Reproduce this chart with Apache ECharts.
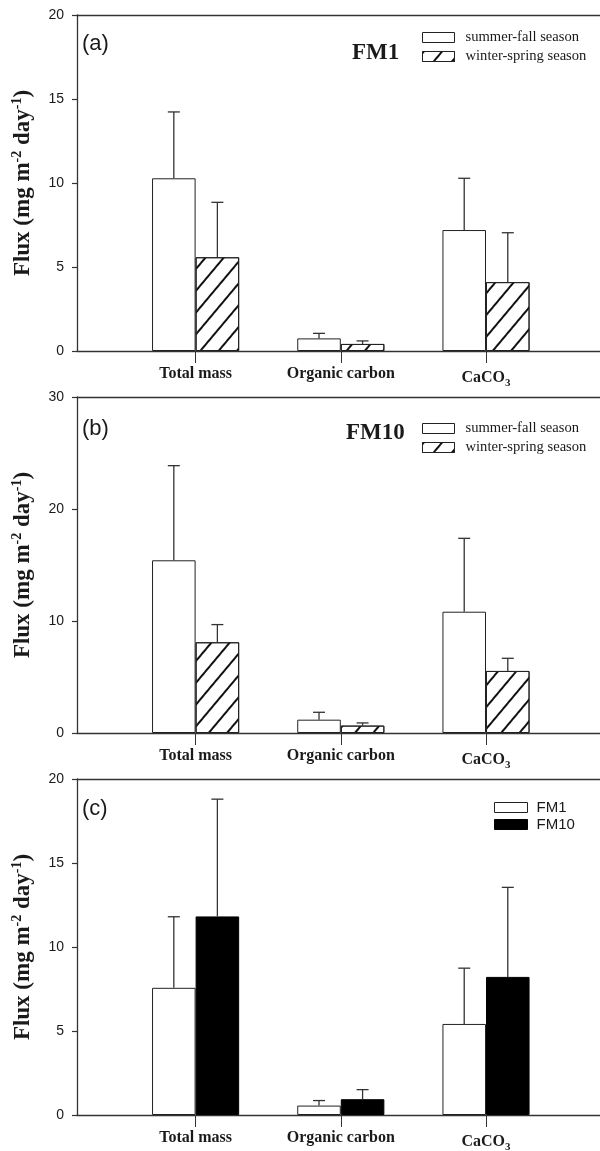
<!DOCTYPE html>
<html>
<head>
<meta charset="utf-8">
<script src="https://cdn.jsdelivr.net/npm/echarts@6/dist/echarts.min.js"></script>
<style>
  html, body { margin: 0; padding: 0; background: #fff; }
  #chart { width: 600px; height: 1151px; }
</style>
</head>
<body>
<div id="chart"></div>
<script>
// data
var categories = ['Total mass', 'Organic carbon', 'CaCO3'];

// (a) FM1
var fm1Summer = [10.28, 0.75, 7.20];
var fm1SummerSd = [3.95, 0.30, 3.08];
var fm1Winter = [5.58, 0.42, 4.10];
var fm1WinterSd = [3.27, 0.18, 2.94];

// (b) FM10
var fm10Summer = [15.42, 1.19, 10.83];
var fm10SummerSd = [8.45, 0.66, 6.55];
var fm10Winter = [8.10, 0.66, 5.54];
var fm10WinterSd = [1.58, 0.24, 1.13];

// (c) annual FM1 vs FM10
var annualFm1 = [7.57, 0.56, 5.42];
var annualFm1Sd = [4.23, 0.30, 3.32];
var annualFm10 = [11.82, 0.94, 8.22];
var annualFm10Sd = [6.98, 0.57, 5.33];

var ticksA = [0, 5, 10, 15, 20];
var ticksB = [0, 10, 20, 30];
var ticksC = [0, 5, 10, 15, 20];

var panelLabels = ['(a)', '(b)', '(c)'];
var panelTitles = ['FM1', 'FM10'];
var seasonNames = ['summer-fall season', 'winter-spring season'];
var siteNames = ['FM1', 'FM10'];

var SERIF = 'Liberation Serif, Times New Roman, serif';
var SANS = 'Liberation Sans, Arial, sans-serif';
var INK = '#1a1a1a';

var hatch = {
  symbol: 'rect',
  symbolSize: 1,
  dashArrayX: [1, 0],
  dashArrayY: [1.3, 12],
  rotation: -50 * Math.PI / 180,
  color: '#111'
};

// panel geometry (pixels)
var panels = [
  { top: 15, height: 336, ticks: ticksA },
  { top: 397, height: 336, ticks: ticksB },
  { top: 779, height: 336, ticks: ticksC }
];

function errorItem(side) {
  return function (params, api) {
    var cat = api.value(0);
    var band = api.size([1, 0])[0];
    var base = api.coord([cat, api.value(1)]);
    var top = api.coord([cat, api.value(1) + api.value(2)]);
    var x = base[0] + side * band * 0.15;
    var lineStyle = { stroke: '#333', lineWidth: 1.3 };
    return {
      type: 'group',
      children: [
        { type: 'line', shape: { x1: x, y1: base[1], x2: x, y2: top[1] }, style: lineStyle },
        { type: 'line', shape: { x1: x - 6, y1: top[1], x2: x + 6, y2: top[1] }, style: lineStyle }
      ]
    };
  };
}

function catLabel(v) {
  if (v === 'CaCO3') return '{b|CaCO}{sub|3}';
  return '{b|' + v + '}';
}

var chart = echarts.init(document.getElementById('chart'));

var grids = [], xAxes = [], yAxes = [], series = [];

panels.forEach(function (p, k) {
  var min = p.ticks[0], max = p.ticks[p.ticks.length - 1];
  var step = p.ticks[1] - p.ticks[0];
  // frame grid
  grids.push({ left: 77, right: -6, top: p.top, height: p.height, outerBoundsMode: 'none', containLabel: false });
  // bar grid
  grids.push({ left: 123, width: 435.6, top: p.top, height: p.height, outerBoundsMode: 'none', containLabel: false });

  xAxes.push({
    gridIndex: 2 * k, type: 'value', min: 0, max: 1, position: 'bottom',
    axisLine: { show: true, lineStyle: { color: '#333', width: 1.3 } },
    axisTick: { show: false }, axisLabel: { show: false }, splitLine: { show: false }
  });
  xAxes.push({
    gridIndex: 2 * k, type: 'value', min: 0, max: 1, position: 'top',
    axisLine: { show: true, lineStyle: { color: '#333', width: 1.3 } },
    axisTick: { show: false }, axisLabel: { show: false }, splitLine: { show: false }
  });
  xAxes.push({
    gridIndex: 2 * k + 1, type: 'category', data: categories, position: 'bottom',
    axisLine: { show: false },
    axisTick: { show: true, alignWithLabel: true, length: 12, lineStyle: { color: '#333', width: 1 } },
    axisLabel: {
      margin: 15, formatter: catLabel,
      rich: {
        b: { fontFamily: SERIF, fontWeight: 'bold', fontSize: 16, color: INK },
        sub: { fontFamily: SERIF, fontWeight: 'bold', fontSize: 11, color: INK, padding: [12, 0, 0, 0] }
      }
    },
    splitLine: { show: false }
  });

  yAxes.push({
    gridIndex: 2 * k, type: 'value', min: min, max: max, interval: step,
    axisLine: { show: true, lineStyle: { color: '#333', width: 1.3 } },
    axisTick: { show: true, length: 5, lineStyle: { color: '#333', width: 1.2 } },
    axisLabel: { margin: 13, fontFamily: SANS, fontSize: 14, color: INK },
    splitLine: { show: false },
    name: '{b|Flux (mg m}{s|-2}{b| day}{s|-1}{b|)}',
    nameLocation: 'middle', nameGap: 41, nameRotate: 90,
    nameTextStyle: {
      rich: {
        b: { fontFamily: SERIF, fontWeight: 'bold', fontSize: 23, color: INK },
        s: { fontFamily: SERIF, fontWeight: 'bold', fontSize: 14, color: INK, padding: [0, 0, 12, 0] }
      }
    }
  });
  yAxes.push({
    gridIndex: 2 * k + 1, type: 'value', min: min, max: max, show: false
  });
});

function addPair(k, names, v1, e1, v2, e2, style2) {
  var xi = 3 * k + 2, yi = 2 * k + 1;
  series.push({
    name: names[0], type: 'bar', xAxisIndex: xi, yAxisIndex: yi,
    barWidth: '30%', barGap: '0%', data: v1,
    itemStyle: { color: '#fff', borderColor: '#222', borderWidth: 1 }
  });
  series.push({
    name: names[1], type: 'bar', xAxisIndex: xi, yAxisIndex: yi,
    barWidth: '30%', barGap: '0%', data: v2,
    itemStyle: style2
  });
  series.push({
    type: 'custom', xAxisIndex: xi, yAxisIndex: yi, z: 5, silent: true,
    renderItem: errorItem(-1),
    data: v1.map(function (v, i) { return [i, v, e1[i]]; })
  });
  series.push({
    type: 'custom', xAxisIndex: xi, yAxisIndex: yi, z: 5, silent: true,
    renderItem: errorItem(1),
    data: v2.map(function (v, i) { return [i, v, e2[i]]; })
  });
}

var hatchStyle = { color: '#fff', borderColor: '#222', borderWidth: 1, decal: hatch };
addPair(0, seasonNames, fm1Summer, fm1SummerSd, fm1Winter, fm1WinterSd, hatchStyle);
addPair(1, seasonNames, fm10Summer, fm10SummerSd, fm10Winter, fm10WinterSd, hatchStyle);
addPair(2, siteNames, annualFm1, annualFm1Sd, annualFm10, annualFm10Sd,
  { color: '#000', borderColor: '#000', borderWidth: 1 });

var labelStyle = { fontFamily: SANS, fontSize: 22, fontWeight: 'normal', color: INK };
var siteStyle = { fontFamily: SERIF, fontSize: 23, fontWeight: 'bold', color: INK };

function seasonLegend(top) {
  return {
    data: seasonNames, orient: 'vertical', left: 422, top: top, padding: 0,
    itemWidth: 32, itemHeight: 10, itemGap: 4, icon: 'rect',
    itemStyle: { borderWidth: 1 },
    textStyle: { fontFamily: SERIF, fontSize: 14.6, color: INK, padding: [0, 0, 0, 6] }
  };
}

chart.setOption({
  animation: false,
  backgroundColor: '#fff',
  title: [
    { text: panelLabels[0], left: 82, top: 33, padding: 0, textStyle: labelStyle },
    { text: panelLabels[1], left: 82, top: 418, padding: 0, textStyle: labelStyle },
    { text: panelLabels[2], left: 82, top: 798, padding: 0, textStyle: labelStyle },
    { text: panelTitles[0], left: 352, top: 42, padding: 0, textStyle: siteStyle },
    { text: panelTitles[1], left: 346, top: 422, padding: 0, textStyle: siteStyle }
  ],
  legend: [
    seasonLegend(30),
    seasonLegend(421),
    {
      data: siteNames, orient: 'vertical', left: 494, top: 800, padding: 0,
      itemWidth: 33, itemHeight: 10, itemGap: 2, icon: 'rect',
      itemStyle: { borderWidth: 1 },
      textStyle: { fontFamily: SANS, fontSize: 15, color: INK, padding: [0, 0, 0, 4] }
    }
  ],
  grid: grids,
  xAxis: xAxes,
  yAxis: yAxes,
  series: series
});
</script>
</body>
</html>
